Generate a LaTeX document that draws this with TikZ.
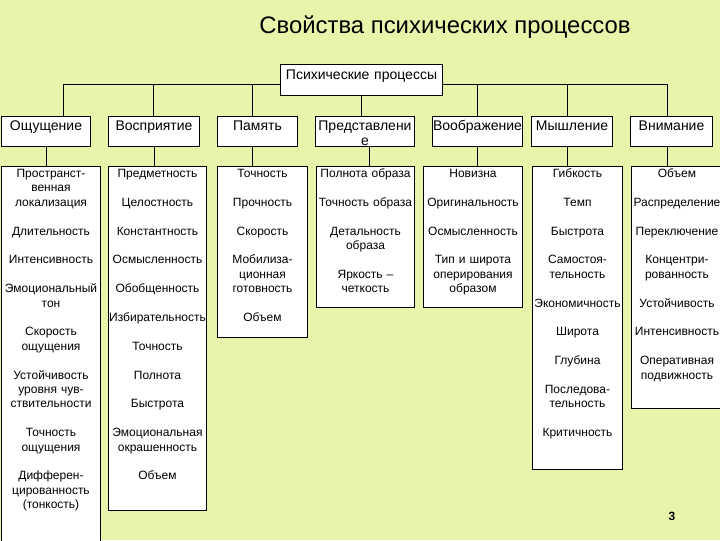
\documentclass[tikz,border=0pt]{standalone}
\usepackage{fontspec}
\setmainfont{Liberation Sans}

\definecolor{slidebg}{RGB}{232,244,170}
\newcommand\itemgap{\\[10.8pt]}

\tikzset{every picture/.style={line width=0.75pt}}
\tikzset{
  rootbox/.style={draw, fill=white, anchor=north west, inner sep=0pt, align=center,
    font=\fontsize{10.5}{11.5}\selectfont, text height=11pt},
  procbox/.style={draw, fill=white, anchor=north west, inner sep=0pt, align=center,
    font=\fontsize{10.5}{11.5}\selectfont, text height=10.5pt, text depth=12pt},
  colbox/.style={draw, fill=white, anchor=north west, inner sep=0pt, align=center,
    font=\fontsize{9}{10.8}\selectfont, text height=8.25pt}
}

\begin{document}
\begin{tikzpicture}[x=0.75pt,y=0.75pt,yscale=-1,xscale=1]
\useasboundingbox (0,0) rectangle (720,540);
\clip (0,0) rectangle (720,540);
\fill [slidebg] (0,0) rectangle (720,540);

% Text Node
\node (title) [anchor=base, inner sep=0.75pt, font=\fontsize{17.9}{20}\selectfont] at (445,33.5) {Свойства психических процессов};

%Shape: Rectangle
\node (root) [rootbox, text width=121.5pt, text depth=12.25pt] at (280,64) {Психические процессы};

%Shape: Rectangle
\node (osh) [procbox, text width=66.75pt] at (1,116) {Ощущение};
\node (vos) [procbox, text width=68.25pt] at (108,116) {Восприятие};
\node (pam) [procbox, text width=60pt] at (217,116) {Память};
\node (pred) [procbox, text width=74.25pt] at (315,116) {Представлени\\е};
\node (voob) [procbox, text width=67.5pt] at (432,116) {Воображение};
\node (mysh) [procbox, text width=60.75pt] at (531,116) {Мышление};
\node (vnim) [procbox, text width=61.5pt] at (630,116) {Внимание};

% bus taps
\coordinate (tOsh) at (63,84);
\coordinate (tVos) at (153,84);
\coordinate (tPam) at (252,84);
\coordinate (tPred) at (369,146);
\coordinate (tVoob) at (477,84);
\coordinate (tMysh) at (567,84);
\coordinate (tVnim) at (667,84);

%Straight Lines
\draw (root.west |- tOsh) -- (tOsh) -- (tOsh |- osh.north);
\draw (root.east |- tVnim) -- (tVnim) -- (tVnim |- vnim.north);
\draw (tVos) -- (tVos |- vos.north);
\draw (tPam) -- (tPam |- pam.north);
\draw (root.south) -- (root.south |- pred.north);
\draw (tVoob) -- (tVoob |- voob.north);
\draw (tMysh) -- (tMysh |- mysh.north);

%Shape: Rectangle
\node (cOsh) [colbox, text width=74.25pt, text depth=276pt] at (1,166)
  {Пространст-\\венная\\локализация\itemgap Длительность\itemgap Интенсивность\itemgap
   Эмоциональный\\тон\itemgap Скорость\\ощущения\itemgap Устойчивость\\уровня чув-\\ствительности\itemgap
   Точность\\ощущения\itemgap Дифферен-\\цированность\\(тонкость)};
\node (cVos) [colbox, text width=73.5pt, text depth=249.75pt] at (108,166)
  {Предметность\itemgap Целостность\itemgap Константность\itemgap Осмысленность\itemgap
   Обобщенность\itemgap Избирательность\itemgap Точность\itemgap Полнота\itemgap Быстрота\itemgap
   Эмоциональная\\окрашенность\itemgap Объем};
\node (cPam) [colbox, text width=67.5pt, text depth=120pt] at (217,166)
  {Точность\itemgap Прочность\itemgap Скорость\itemgap Мобилиза-\\ционная\\готовность\itemgap Объем};
\node (cPred) [colbox, text width=73.5pt, text depth=97.5pt] at (316,166)
  {Полнота образа\itemgap Точность образа\itemgap Детальность\\образа\itemgap Яркость –\\четкость};
\node (cVoob) [colbox, text width=74.25pt, text depth=97.5pt] at (423,166)
  {Новизна\itemgap Оригинальность\itemgap Осмысленность\itemgap Тип и широта\\оперирования\\образом};
\node (cMysh) [colbox, text width=67.5pt, text depth=219pt] at (532,166)
  {Гибкость\itemgap Темп\itemgap Быстрота\itemgap Самостоя-\\тельность\itemgap Экономичность\itemgap
   Широта\itemgap Глубина\itemgap Последова-\\тельность\itemgap Критичность};
\node (cVnim) [colbox, text width=68.25pt, text depth=173.25pt] at (631,166)
  {Объем\itemgap Распределение\itemgap Переключение\itemgap Концентри-\\рованность\itemgap
   Устойчивость\itemgap Интенсивность\itemgap Оперативная\\подвижность};

%Straight Lines
\draw (osh.south) -- (osh.south |- cOsh.north);
\draw (vos.south) -- (vos.south |- cVos.north);
\draw (tPam |- pam.south) -- (tPam |- cPam.north);
\draw (tPred) -- (tPred |- cPred.north);
\draw (voob.south) -- (voob.south |- cVoob.north);
\draw (tMysh |- mysh.south) -- (tMysh |- cMysh.north);
\draw (tVnim |- vnim.south) -- (tVnim |- cVnim.north);

% Text Node
\node (pnum) [inner sep=0.75pt, font=\fontsize{9}{10}\selectfont\bfseries] at (672,516) {3};

\end{tikzpicture}
\end{document}
